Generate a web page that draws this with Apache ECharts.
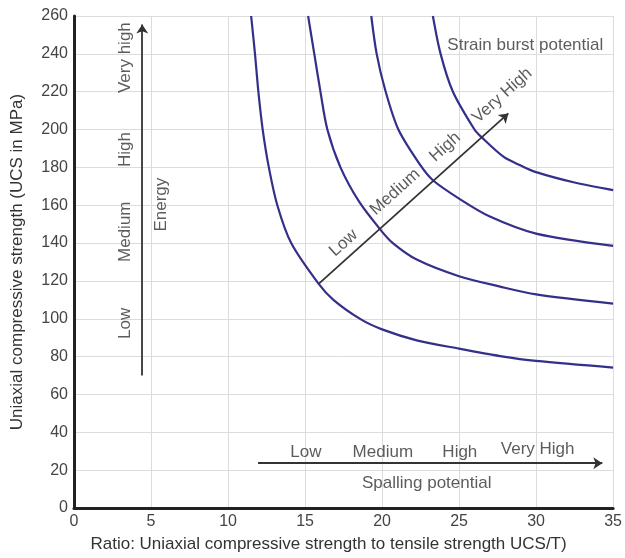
<!DOCTYPE html>
<html>
<head>
<meta charset="utf-8">
<script src="https://cdn.jsdelivr.net/npm/echarts@6/dist/echarts.min.js"></script>
<style>
html,body{margin:0;padding:0;background:#fff;}
#chart{width:625px;height:558px;}
</style>
</head>
<body>
<div id="chart"></div>
<script>
// ---- data ----
const curveLowX  = [11.5, 11.75, 11.97, 12.25, 12.65, 13.2, 14.1, 15.86, 16.84, 18.6, 20, 22.25, 25, 27.66, 30, 35];
const curveLowY  = [260, 240, 220, 200, 180, 160, 140, 118.7, 110, 99.8, 94.4, 88.6, 84.2, 80.3, 77.7, 74.2];
const curveMedX  = [15.2, 15.6, 16.0, 16.45, 17.3, 18.5, 19.9, 20.7, 22.25, 25, 27.66, 30, 35];
const curveMedY  = [260, 240, 220, 200, 180, 162, 147, 140, 131.3, 122.5, 117, 112.9, 108];
const curveHighX = [19.3, 19.65, 20.2, 21.06, 22.5, 23.3, 25, 27, 30, 35];
const curveHighY = [260, 240, 221, 200, 181, 173.2, 163.5, 154, 145, 138.5];
const curveVHX   = [23.3, 23.8, 24.6, 26.0, 26.4, 27.9, 29.0, 30, 32.5, 35];
const curveVHY   = [260, 240, 220, 200, 196.4, 185.5, 181, 177.5, 172, 168];

const energyLabels = ['Low', 'Medium', 'High', 'Very high'];
const energyLabelY = [97.6, 146, 189.4, 238];
const energyLabelX = 3.3;

const strainLabels = ['Low', 'Medium', 'High', 'Very High'];
const strainLabelX = [17.5, 20.85, 24.1, 27.8];
const strainLabelY = [140, 167, 190.8, 218];

const spallLabels = ['Low', 'Medium', 'High', 'Very High'];
const spallLabelX = [15.05, 20.05, 25.05, 30.1];
const spallLabelY = [29.5, 29.4, 29.4, 31];

const energyArrow = [[4.43, 70], [4.43, 255.5]];
const strainArrow = [[15.9, 118.6], [28.2, 208.5]];
const spallArrow  = [[11.95, 23.7], [34.3, 23.7]];

const titleTexts = ['Strain burst potential', 'Spalling potential', 'Energy'];
const titleX = [29.3, 22.9, 5.7];
const titleY = [244.7, 13.2, 160.3];
const titleRot = [0, 0, 90];

// ---- chart ----
const FONT = '"Liberation Sans", Arial, sans-serif';
const curveColor = '#34308a';
const zip = (xs, ys) => xs.map((x, i) => [x, ys[i]]);

function curve(xs, ys) {
  return {
    type: 'line', data: zip(xs, ys), smooth: 0.3,
    showSymbol: false, symbol: 'none', silent: true,
    lineStyle: { color: curveColor, width: 2.2 }
  };
}

function textSeries(names, xs, ys, rot) {
  return {
    type: 'scatter', symbolSize: 0, silent: true,
    data: names.map((n, i) => ({
      name: n,
      value: [Array.isArray(xs) ? xs[i] : xs, ys[i]],
      label: { rotate: Array.isArray(rot) ? rot[i] : rot }
    })),
    label: {
      show: true, position: 'inside', formatter: p => p.name,
      color: '#333', fontSize: 17, fontFamily: FONT
    }
  };
}

const chart = echarts.init(document.getElementById('chart'), null, { renderer: 'canvas' });
chart.setOption({
  animation: false,
  backgroundColor: '#fff',
  grid: { left: 74, right: 11, top: 16, bottom: 49, containLabel: false },
  xAxis: {
    type: 'value', min: 0, max: 35, interval: 5,
    name: 'Ratio: Uniaxial compressive strength to tensile strength UCS/T)',
    nameLocation: 'middle', nameGap: 28,
    nameTextStyle: { color: '#333', fontSize: 17, fontFamily: FONT, padding: [0, 30, 0, 0] },
    axisLine: { lineStyle: { color: '#222', width: 3 } },
    axisTick: { show: false },
    axisLabel: { color: '#444', fontSize: 16, fontFamily: FONT, margin: 6 },
    splitLine: { show: true, lineStyle: { color: '#dcdcdc', width: 1 } }
  },
  yAxis: {
    type: 'value', min: 0, max: 260, interval: 20,
    name: 'Uniaxial compressive strength (UCS in MPa)',
    nameLocation: 'middle', nameGap: 48,
    nameTextStyle: { color: '#333', fontSize: 17, fontFamily: FONT },
    axisLine: { show: true, lineStyle: { color: '#222', width: 3 } },
    axisTick: { show: false },
    axisLabel: { color: '#444', fontSize: 16, fontFamily: FONT, margin: 6 },
    splitLine: { show: true, lineStyle: { color: '#dcdcdc', width: 1 } }
  },
  series: [
    curve(curveLowX, curveLowY),
    curve(curveMedX, curveMedY),
    curve(curveHighX, curveHighY),
    curve(curveVHX, curveVHY),
    {
      type: 'line', data: [], silent: true,
      markLine: {
        silent: true, animation: false,
        symbol: ['none', 'arrow'], symbolSize: 9,
        lineStyle: { color: '#333', width: 1.8, type: 'solid' },
        label: { show: false },
        emphasis: { disabled: true },
        data: [energyArrow, strainArrow, spallArrow].map(a => [{ coord: a[0] }, { coord: a[1] }])
      }
    },
    textSeries(energyLabels, energyLabelX, energyLabelY, 90),
    textSeries(strainLabels, strainLabelX, strainLabelY, 42),
    textSeries(spallLabels, spallLabelX, spallLabelY, 0),
    textSeries(titleTexts, titleX, titleY, titleRot)
  ]
});
</script>
</body>
</html>
